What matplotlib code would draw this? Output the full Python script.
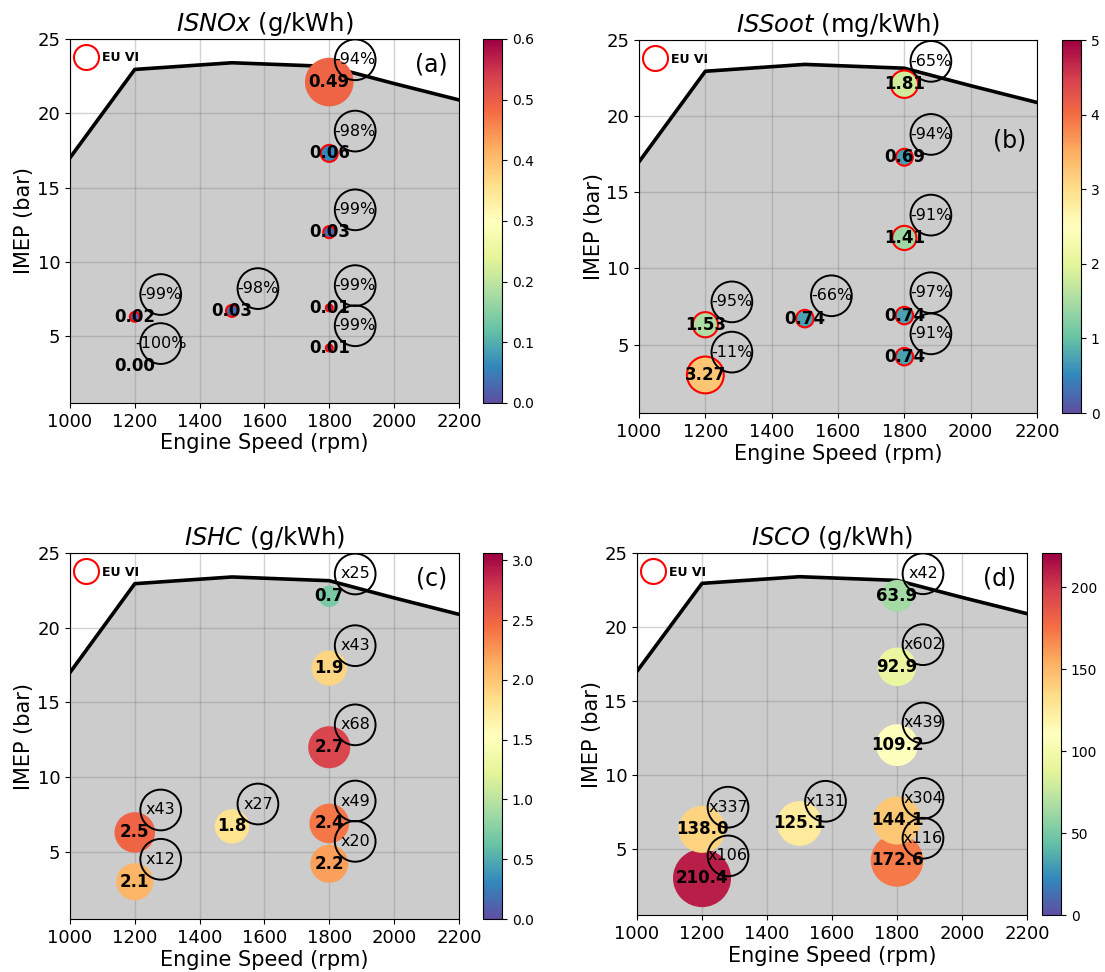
import matplotlib
matplotlib.use("Agg")
import matplotlib.pyplot as plt
from matplotlib.lines import Line2D
from matplotlib.ticker import MultipleLocator

plt.rcParams.update({"font.size": 13})

# operating points (engine speed, IMEP)
SPEED = [1200, 1200, 1500, 1800, 1800, 1800, 1800, 1800]
IMEP = [3.0, 6.3, 6.7, 4.2, 6.9, 12.0, 17.3, 22.1]

# full load curve
FULL_LOAD_SPEED = [1000, 1200, 1500, 1800, 2000, 2200]
FULL_LOAD_IMEP = [17.0, 22.95, 23.4, 23.15, 22.0, 20.9]

NOX = [0.00, 0.02, 0.03, 0.01, 0.01, 0.03, 0.06, 0.49]
SOOT = [3.27, 1.53, 0.74, 0.74, 0.74, 1.41, 0.69, 1.81]
HC = [2.1, 2.5, 1.8, 2.2, 2.4, 2.7, 1.9, 0.7]
CO = [210.4, 138.0, 125.1, 172.6, 144.1, 109.2, 92.9, 63.9]

NOX_CHANGE = ["-100%", "-99%", "-98%", "-99%", "-99%", "-99%", "-98%", "-94%"]
SOOT_CHANGE = ["-11%", "-95%", "-66%", "-91%", "-97%", "-91%", "-94%", "-65%"]
HC_CHANGE = ["x12", "x43", "x27", "x20", "x49", "x68", "x43", "x25"]
CO_CHANGE = ["x106", "x337", "x131", "x116", "x304", "x439", "x602", "x42"]

# EU VI limits: NOx g/kWh, soot mg/kWh, HC g/kWh, CO g/kWh
EU_VI_LIMIT = [0.4, 10.0, 0.13, 1.5]

FILL_GREY = "#cccccc"
RING_DX, RING_DY = 80, 1.5

PANELS = [
    # name, unit, values, change labels, vmax, cbar step, size scale, fmt, tag, axes rect, cbar rect, tag y
    ("ISNOx", "g/kWh", NOX, NOX_CHANGE, 0.6, 0.1, 2500, "{:.2f}", "(a)",
     [0.0633, 0.5854, 0.3520, 0.3745], [0.4371, 0.5854, 0.0172, 0.3745], 0.93),
    ("ISSoot", "mg/kWh", SOOT, SOOT_CHANGE, 5.0, 1, 215, "{:.2f}", "(b)",
     [0.5783, 0.5751, 0.3602, 0.3837], [0.9611, 0.5751, 0.0172, 0.3837], 0.73),
    ("ISHC", "g/kWh", HC, HC_CHANGE, 3.06, 0.5, 340, "{:.1f}", "(c)",
     [0.0633, 0.0545, 0.3520, 0.3765], [0.4371, 0.0545, 0.0172, 0.3765], 0.93),
    ("ISCO", "g/kWh", CO, CO_CHANGE, 221.0, 50, 8.3, "{:.1f}", "(d)",
     [0.5765, 0.0586, 0.3529, 0.3724], [0.9430, 0.0586, 0.0172, 0.3724], 0.93),
]


def draw_panel(fig, panel, limit):
    name, unit, values, changes, vmax, step, scale, fmt, tag, rect, cbar_rect, tag_y = panel
    ax = fig.add_axes(rect)
    cax = fig.add_axes(cbar_rect)

    ax.fill_between(FULL_LOAD_SPEED, FULL_LOAD_IMEP, 0, color=FILL_GREY, lw=0)
    ax.plot(FULL_LOAD_SPEED, FULL_LOAD_IMEP, color="black", lw=2.6, zorder=2)
    ax.grid(True, color="grey", alpha=0.35, lw=1)

    sizes = [v * scale for v in values]
    edges = ["red" if v <= limit else "none" for v in values]
    sc = ax.scatter(SPEED, IMEP, s=sizes, c=values, cmap="Spectral_r", vmin=0, vmax=vmax,
                    edgecolors=edges, linewidths=1.5, zorder=3)

    ring_x = [x + RING_DX for x in SPEED]
    ring_y = [y + RING_DY for y in IMEP]
    ax.scatter(ring_x, ring_y, s=860, facecolors="none", edgecolors="black", linewidths=1.4, zorder=4)

    for x, y, v in zip(SPEED, IMEP, values):
        ax.text(x, y, fmt.format(v), ha="center", va="center", fontsize=12,
                fontweight="bold", zorder=5)
    for x, y, lab in zip(ring_x, ring_y, changes):
        ax.text(x, y, lab, ha="center", va="center", fontsize=11.5, zorder=5)

    ax.text(0.93, tag_y, tag, transform=ax.transAxes, ha="center", va="center", fontsize=17)

    handle = Line2D([], [], ls="", marker="o", ms=18, mfc="none", mec="red", mew=1.5)
    ax.legend([handle], ["EU VI"], loc="upper left", bbox_to_anchor=(-0.018, 0.995),
              frameon=False, borderaxespad=0.45, handletextpad=0.3,
              prop={"weight": "bold", "size": 9})

    ax.set_xlim(1000, 2200)
    ax.set_ylim(0.5, 25)
    ax.set_xticks(range(1000, 2201, 200))
    ax.set_yticks([5, 10, 15, 20, 25])
    ax.set_xlabel("Engine Speed (rpm)", fontsize=15, labelpad=2)
    ax.set_ylabel("IMEP (bar)", fontsize=15, labelpad=2)
    ax.set_title(r"$\it{" + name + "}$ (" + unit + ")", fontsize=17.5, pad=6)

    cbar = fig.colorbar(sc, cax=cax)
    cbar.ax.yaxis.set_major_locator(MultipleLocator(step))
    cbar.ax.tick_params(labelsize=10)


def main():
    fig = plt.figure(figsize=(11.05, 9.72), dpi=100)
    for panel, limit in zip(PANELS, EU_VI_LIMIT):
        draw_panel(fig, panel, limit)
    fig.savefig("out.png", dpi=100)
    plt.close(fig)


if __name__ == "__main__":
    main()
